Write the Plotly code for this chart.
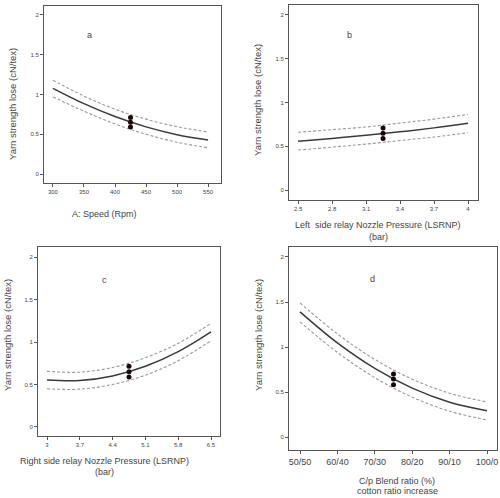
import plotly.graph_objects as go

# ---- data ----
a_x = [300, 350, 400, 450, 500, 550]
a_mid = [1.078, 0.885, 0.723, 0.593, 0.495, 0.428]
a_up = [1.18, 0.98, 0.815, 0.69, 0.595, 0.53]
a_lo = [0.97, 0.79, 0.63, 0.50, 0.40, 0.33]
a_pts_x = [425, 425, 425]
a_pts_y = [0.71, 0.65, 0.59]

b_x = [2.5, 2.8, 3.1, 3.4, 3.7, 4.0]
b_mid = [0.556, 0.59, 0.625, 0.665, 0.71, 0.762]
b_up = [0.66, 0.69, 0.72, 0.765, 0.81, 0.865]
b_lo = [0.457, 0.49, 0.525, 0.565, 0.605, 0.655]
b_pts_x = [3.25, 3.25, 3.25]
b_pts_y = [0.71, 0.65, 0.59]

c_x = [3.0, 3.7, 4.4, 5.1, 5.8, 6.5]
c_mid = [0.553, 0.547, 0.601, 0.714, 0.887, 1.12]
c_up = [0.655, 0.645, 0.70, 0.815, 0.985, 1.22]
c_lo = [0.45, 0.445, 0.50, 0.61, 0.78, 1.015]
c_pts_x = [4.75, 4.75, 4.75]
c_pts_y = [0.714, 0.65, 0.588]

d_x = [50, 60, 70, 80, 90, 100]
d_mid = [1.39, 1.045, 0.762, 0.543, 0.387, 0.293]
d_up = [1.49, 1.145, 0.862, 0.643, 0.487, 0.39]
d_lo = [1.28, 0.94, 0.66, 0.443, 0.287, 0.19]
d_pts_x = [75, 75, 75]
d_pts_y = [0.70, 0.644, 0.58]

a_ticks = [300, 350, 400, 450, 500, 550]
b_ticks = [2.5, 2.8, 3.1, 3.4, 3.7, 4]
c_ticks = [3, 3.7, 4.4, 5.1, 5.8, 6.5]
d_ticks = [50, 60, 70, 80, 90, 100]
d_ticktext = ["50/50", "60/40", "70/30", "80/20", "90/10", "100/0"]
y_ticks = [0, 0.5, 1, 1.5, 2]

FONT = "Arial, Liberation Sans, sans-serif"
fig = go.Figure()

panels = [
    ("", a_x, a_mid, a_up, a_lo, a_pts_x, a_pts_y),
    ("2", b_x, b_mid, b_up, b_lo, b_pts_x, b_pts_y),
    ("3", c_x, c_mid, c_up, c_lo, c_pts_x, c_pts_y),
    ("4", d_x, d_mid, d_up, d_lo, d_pts_x, d_pts_y),
]
for suf, x, mid, up, lo, px, py in panels:
    xa, ya = "x" + suf, "y" + suf
    for yy in (up, lo):
        fig.add_trace(go.Scatter(x=x, y=yy, mode="lines",
                                 line=dict(color="#999999", width=1.1, dash="3px,2px", shape="spline"),
                                 xaxis=xa, yaxis=ya, showlegend=False))
    fig.add_trace(go.Scatter(x=x, y=mid, mode="lines", line=dict(color="#3a3a3a", width=1.5, shape="spline"),
                             xaxis=xa, yaxis=ya, showlegend=False))
    fig.add_trace(go.Scatter(x=px, y=py, mode="markers", marker=dict(color="#1a0808", size=5),
                             xaxis=xa, yaxis=ya, showlegend=False))

W, H = 500, 498
def dom_x(l, r):
    return [l / W, r / W]
def dom_y(t, b):
    return [1 - b / H, 1 - t / H]

axis_common = dict(showgrid=False, zeroline=False, showline=True, linecolor="#555", linewidth=1, mirror=True,
                   ticks="outside", ticklen=3, tickcolor="#555", tickfont=dict(size=6, color="#444", family=FONT))

fig.update_layout(
    width=W, height=H, margin=dict(l=0, r=0, t=0, b=0), paper_bgcolor="white", plot_bgcolor="white",
    font=dict(family=FONT),
    xaxis=dict(domain=dom_x(44, 221), range=[285.6, 570.8], tickvals=a_ticks, anchor="y", **axis_common),
    yaxis=dict(domain=dom_y(6, 183), range=[-0.113, 2.113], tickvals=y_ticks, anchor="x", **axis_common),
    xaxis2=dict(domain=dom_x(289, 478), range=[2.42, 4.088], tickvals=b_ticks, anchor="y2", **axis_common),
    yaxis2=dict(domain=dom_y(5, 200), range=[-0.114, 2.114], tickvals=y_ticks, anchor="x2", **axis_common),
    xaxis3=dict(domain=dom_x(38, 220), range=[2.808, 6.692], tickvals=c_ticks, anchor="y3", **axis_common),
    yaxis3=dict(domain=dom_y(247, 436), range=[-0.106, 2.118], tickvals=y_ticks, anchor="x3", **axis_common),
    xaxis4=dict(domain=dom_x(289, 497), range=[47.06, 102.67], tickvals=d_ticks, ticktext=d_ticktext, anchor="y4",
                **{**axis_common, "tickfont": dict(size=9, color="#444", family=FONT)}),
    yaxis4=dict(domain=dom_y(247, 450), range=[-0.144, 2.111], tickvals=y_ticks, anchor="x4", **axis_common),
)

def ann(text, x, y, size=9, angle=0):
    fig.add_annotation(text=text, x=x / W, y=1 - y / H, xref="paper", yref="paper", showarrow=False,
                       font=dict(size=size, color="#444", family=FONT), textangle=angle,
                       xanchor="center", yanchor="middle")

ytitle = "Yarn strength lose (cN/tex)"
ann(ytitle, 13, 104, 9.5, -90)
ann(ytitle, 257, 100, 9.5, -90)
ann(ytitle, 7, 335, 9.5, -90)
ann(ytitle, 258, 335, 9.5, -90)

ann("A: Speed (Rpm)", 104, 214, 9)
ann("Left  side relay Nozzle Pressure (LSRNP)", 378, 225, 9)
ann("(bar)", 378, 237, 9)
ann("Right side relay Nozzle Pressure (LSRNP)", 104, 461, 9)
ann("(bar)", 104, 472, 9)
ann("C/p Blend ratio (%)", 397, 481, 9)
ann("cotton ratio increase", 397, 491, 9)

ann("a", 89, 35, 9)
ann("b", 349, 35, 9)
ann("c", 104, 280, 9)
ann("d", 372, 279, 9)

fig.write_html("out.html", config={"displayModeBar": False},
               post_script="document.body.style.margin='0';document.body.style.overflow='hidden';")
